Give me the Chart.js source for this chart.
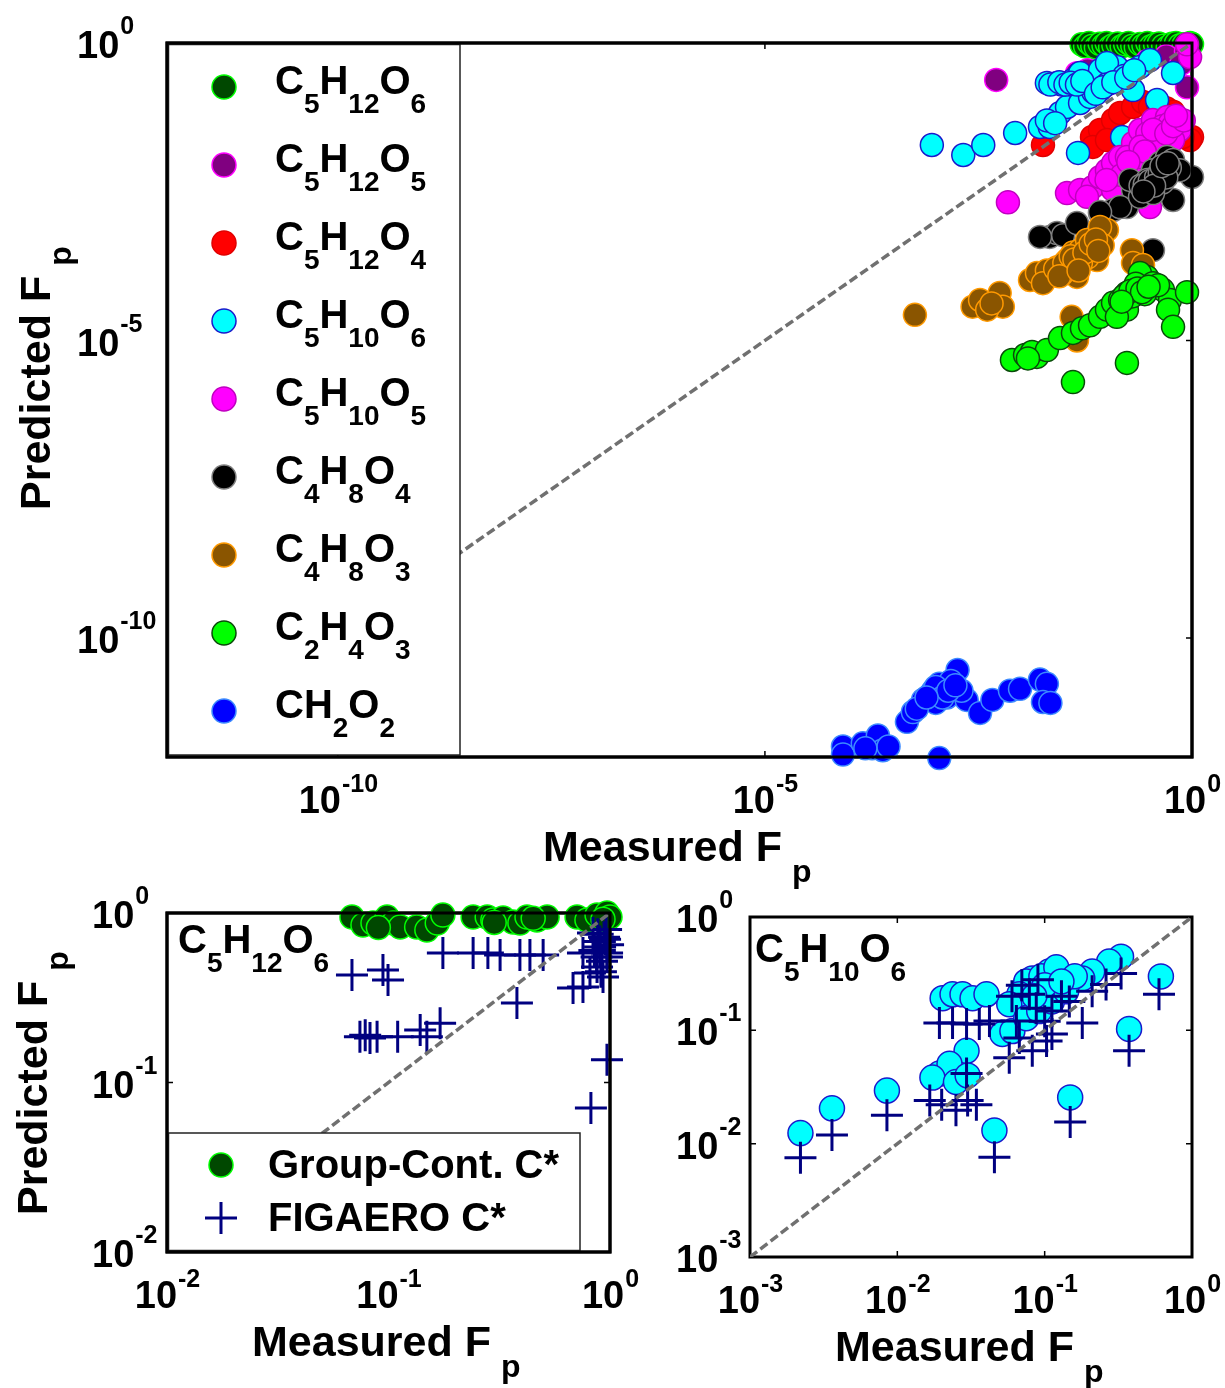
<!DOCTYPE html>
<html>
<head>
<meta charset="utf-8">
<script src="https://cdn.jsdelivr.net/npm/chart.js@4.4.1/dist/chart.umd.min.js"></script>
<style>
  body { margin: 0; background: #fff; }
  #wrap { position: relative; width: 1225px; height: 1388px; }
  canvas { position: absolute; left: 0; top: 0; }
</style>
</head>
<body>
<div id="wrap">
  <canvas id="mainChart" width="1225" height="1388"></canvas>
  <canvas id="leftChart" width="1225" height="1388"></canvas>
  <canvas id="rightChart" width="1225" height="1388"></canvas>
</div>
<script>
// ---------- top panel: measured vs predicted Fp, all species ----------
const speciesNames = ['C5H12O6', 'C5H12O5', 'C5H12O4', 'C5H10O6', 'C5H10O5', 'C4H8O4', 'C4H8O3', 'C2H4O3', 'CH2O2'];

const c5h12o6X = [0.051,0.056,0.062,0.068,0.075,0.083,0.092,0.10,0.11,0.12,0.135,0.15,0.165,0.18,0.20,0.22,0.245,0.27,0.30,0.33,0.37,0.41,0.46,0.52,0.58,0.65,0.72,0.80,0.88,0.95,1.0];
const c5h12o6Y = [0.95,0.88,1.0,0.90,0.84,0.97,0.92,1.0,0.86,0.93,0.98,0.88,0.95,1.0,0.9,0.85,0.96,0.92,1.0,0.88,0.94,0.98,0.9,0.86,0.97,1.0,0.92,0.95,0.88,1.0,0.96];

const c5h12o5X = [0.0051,0.045,0.06,0.3,0.5,0.85,0.874,0.75];
const c5h12o5Y = [0.24,0.31,0.35,0.5,0.6,0.72,0.18,0.45];

const c5h12o4X = [0.018,0.0675,0.0838,0.119,0.144,0.204,0.267,0.322,0.72,1.0,0.95,0.78,0.204,0.069,0.101,0.5,0.6,0.4];
const c5h12o4Y = [0.0193,0.0263,0.0345,0.0508,0.0666,0.084,0.102,0.084,0.0508,0.0263,0.0234,0.0263,0.0044,0.0179,0.0234,0.08,0.07,0.09];

const c5h10o6X = [0.0009,0.0021,0.0036,0.0085,0.0463,0.39,0.6,0.152,0.020,0.0263,0.0344,0.0404,0.0489,0.059,0.0166,0.0216,0.0285,0.0344,0.0489,0.064,0.0838,0.11,0.144,0.188,0.246,0.322,0.0838,0.132,0.101,0.204,0.02,0.025,0.03,0.07,0.1,0.16,
                  0.022,0.028,0.033,0.038,0.045,0.052,0.075,0.09,0.12,0.17,0.21];
const c5h10o6Y = [0.0193,0.0131,0.0193,0.0307,0.0142,0.11,0.313,0.0263,0.213,0.213,0.213,0.239,0.313,0.213,0.0388,0.0388,0.0666,0.084,0.098,0.124,0.162,0.213,0.239,0.313,0.395,0.518,0.352,0.395,0.461,0.162,0.05,0.045,0.2,0.15,0.2,0.28,
                  0.2,0.22,0.2,0.215,0.2,0.23,0.14,0.18,0.22,0.26,0.35];

const c5h10o5X = [0.007,0.0344,0.0489,0.069,0.0838,0.101,0.119,0.144,0.204,0.246,0.349,0.51,0.72,0.95,0.874,0.173,0.297,0.39,0.6,0.204,0.119,0.322,0.059,0.246,0.3,0.45,0.25,0.4,0.55,0.7,0.15,
                  0.35,0.5,0.6,0.8,0.65,0.28,0.18,0.1];
const c5h10o5Y = [0.0021,0.003,0.0034,0.0038,0.0056,0.0073,0.0096,0.0121,0.0209,0.0345,0.0508,0.057,0.0345,0.58,0.95,0.0121,0.0234,0.0345,0.0234,0.0073,0.0034,0.00175,0.0026,0.0121,0.03,0.04,0.018,0.02,0.045,0.05,0.006,
                  0.035,0.03,0.04,0.05,0.06,0.015,0.01,0.005];

const c4h8o4X = [0.0216,0.0263,0.031,0.0166,0.045,0.0838,0.119,0.173,0.349,0.6,0.422,0.51,0.6,1.0,0.204,0.297,0.144,0.0838,0.349,0.246,0.188,0.72,0.3,0.4,0.45,0.25,0.55,0.35,
                 0.28,0.32,0.38,0.42,0.48,0.5,0.36,0.44,0.52,0.27];
const c4h8o4Y = [0.00055,0.00064,0.00059,0.00055,0.00094,0.00139,0.00156,0.00175,0.00033,0.0023,0.0096,0.0121,0.0108,0.0056,0.0034,0.0038,0.00175,0.00144,0.0073,0.0026,0.005,0.0073,0.005,0.006,0.0045,0.004,0.008,0.003,
                 0.0042,0.0048,0.0055,0.0065,0.007,0.0055,0.004,0.0085,0.0095,0.0032];

const c4h8o3X = [0.00057,0.0027,0.0033,0.0056,0.0061,0.004,0.0127,0.0153,0.020,0.0263,0.0344,0.0404,0.0489,0.059,0.0838,0.101,0.0773,0.045,0.018,0.198,0.204,0.267,0.039,0.045,0.0838,0.03,0.06,0.07,0.05,0.09,0.0045,
                 0.025,0.032,0.038,0.042,0.055,0.065,0.075,0.08,0.028,0.047];
const c4h8o3Y = [2.7e-5,3.7e-5,4.8e-5,6.3e-5,3.7e-5,3.3e-5,1.04e-4,1.36e-4,1.5e-4,1.7e-4,2.25e-4,3.0e-4,3.3e-4,4.9e-4,6.4e-4,7.2e-4,2.25e-4,1.17e-4,9.2e-5,3.3e-4,2.0e-4,1.86e-4,2.5e-5,1.0e-5,8.1e-4,1.3e-4,2.5e-4,3.8e-4,2.0e-4,4.0e-4,4.2e-5,
                 1.6e-4,2.0e-4,2.6e-4,2.3e-4,3.0e-4,4.2e-4,5.0e-4,3.2e-4,1.2e-4,1.5e-4];

const c2h4o3X = [0.0078,0.0111,0.0153,0.0134,0.020,0.0285,0.0404,0.0515,0.064,0.0838,0.101,0.119,0.144,0.173,0.204,0.246,0.297,0.246,0.349,0.457,0.553,0.524,0.6,0.874,0.173,0.0404,0.173,0.132,0.2,0.22,0.28,0.16,0.4,
                 0.19,0.23,0.26,0.31,0.15,0.012];
const c2h4o3Y = [4.7e-6,5.7e-6,5.3e-6,6.4e-6,6.9e-6,1.1e-5,1.34e-5,1.6e-5,1.8e-5,2.5e-5,3.3e-5,4.3e-5,4.8e-5,6.3e-5,7.1e-5,7.9e-5,1.17e-4,1.36e-4,9.2e-5,7.1e-5,4.8e-5,3.3e-5,1.7e-5,6.5e-5,4.2e-6,2.0e-6,3.3e-5,2.5e-5,5.5e-5,9.0e-5,6.0e-5,5.6e-5,8.5e-5,
                 6.8e-5,7.5e-5,6.5e-5,8.0e-5,4.5e-5,5.0e-6];

const ch2o2X = [8.2e-5,8.2e-5,1.4e-4,1.8e-4,2.1e-4,2.4e-4,2.8e-4,4.6e-4,5.4e-4,7.1e-4,9.3e-4,1.1e-3,1.0e-3,1.35e-3,1.6e-3,1.8e-3,2.3e-3,3.3e-3,4.6e-3,7.4e-3,9.7e-3,0.0166,0.020,0.018,0.022,1.1e-3,1.2e-3,8.5e-4,1.5e-3,2.0e-3,6.0e-4,
                1.0e-3,1.2e-3,1.4e-3,7.8e-4,1.7e-3,1.5e-4];
const ch2o2Y = [1.5e-12,1.1e-12,1.7e-12,1.4e-12,2.3e-12,1.3e-12,1.5e-12,3.9e-12,5.7e-12,9.1e-12,1.3e-11,1.7e-11,8.1e-12,1.0e-11,1.5e-11,2.9e-11,9.1e-12,5.5e-12,9.1e-12,1.3e-11,1.4e-11,2.0e-11,1.7e-11,8.4e-12,8.1e-12,9.6e-13,1.2e-11,1.1e-11,1.9e-11,1.3e-11,6.5e-12,
                1.5e-11,1.0e-11,1.3e-11,1.0e-11,1.6e-11,1.4e-12];

const mainX = [c5h12o6X, c5h12o5X, c5h12o4X, c5h10o6X, c5h10o5X, c4h8o4X, c4h8o3X, c2h4o3X, ch2o2X];
const mainY = [c5h12o6Y, c5h12o5Y, c5h12o4Y, c5h10o6Y, c5h10o5Y, c4h8o4Y, c4h8o3Y, c2h4o3Y, ch2o2Y];

// ---------- bottom-left panel: C5H12O6 ----------
const gcC5h12o6X = [0.0684,0.0767,0.0851,0.0985,0.105,0.113,0.134,0.149,0.166,0.176,0.241,0.279,0.296,0.329,0.365,0.392,0.422,0.468,0.52,0.71,0.787,0.874,0.969,1.0,0.09,0.3,0.45,0.93];
const gcC5h12o6Y = [0.947,0.85,0.873,0.947,0.873,0.827,0.827,0.794,0.873,0.973,0.947,0.947,0.909,0.934,0.885,0.873,0.947,0.909,0.947,0.947,0.909,0.973,1.0,0.947,0.82,0.88,0.93,0.92];
const figC5h12o6X = [0.0684,0.0944,0.0995,0.176,0.241,0.281,0.319,0.392,0.435,0.499,0.755,0.681,0.755,0.38,0.0743,0.0825,0.0888,0.11,0.139,0.149,0.171,0.969,0.838,0.902,0.969,0.874,0.812,0.93,0.82,0.95,0.9,0.85,0.98,0.92,0.88,0.96,0.0785,
                     0.9,0.94,0.87,0.97,0.91];
const figC5h12o6Y = [0.431,0.461,0.402,0.581,0.581,0.581,0.565,0.565,0.565,0.565,0.581,0.361,0.366,0.294,0.186,0.183,0.186,0.186,0.204,0.186,0.224,0.136,0.762,0.63,0.55,0.48,0.443,0.419,0.0707,0.7,0.68,0.6,0.65,0.52,0.75,0.8,0.19,
                     0.6,0.72,0.55,0.58,0.45];

// ---------- bottom-right panel: C5H10O6 ----------
const gcC5h10o6X = [0.0022,0.0036,0.0085,0.0456,0.149,0.615,0.374,0.330,0.274,0.21,0.18,0.107,0.0824,0.075,0.0673,0.0575,0.0516,0.0604,0.075,0.0918,0.112,0.14,0.0203,0.0237,0.0277,0.0324,0.0403,0.0295,0.0193,0.0226,0.0173,0.095,0.12,0.16,0.1,0.025,0.03,0.085,0.13];
const gcC5h10o6Y = [0.0124,0.0205,0.0294,0.0131,0.0256,0.299,0.103,0.447,0.404,0.33,0.287,0.33,0.287,0.27,0.208,0.17,0.0929,0.0986,0.128,0.148,0.18,0.221,0.192,0.208,0.208,0.192,0.208,0.0659,0.0415,0.0507,0.0383,0.3,0.36,0.3,0.25,0.035,0.04,0.2,0.27];
const figC5h10o6X = [0.0022,0.0036,0.0085,0.0456,0.149,0.597,0.374,0.330,0.18,0.0575,0.0193,0.0237,0.0295,0.036,0.0422,0.0787,0.0877,0.112,0.147,0.21,0.261,0.0673,0.0824,0.103,0.0295,0.0643,0.112,0.0166,0.02,0.025,0.03,0.0344,0.07,0.09,0.06,0.1,0.13];
const figC5h10o6Y = [0.0075,0.0119,0.0178,0.0076,0.0155,0.208,0.0659,0.317,0.116,0.0573,0.116,0.116,0.114,0.114,0.121,0.208,0.157,0.148,0.18,0.221,0.254,0.0857,0.0659,0.0806,0.0415,0.121,0.0929,0.024,0.022,0.0197,0.024,0.022,0.25,0.28,0.2,0.12,0.2];

// tick label exponents (labels are 10^n)
const mainTickExp = [-10, -5, 0];
const leftTickExp = [-2, -1, 0];
const rightTickExp = [-3, -2, -1, 0];

// styles
const speciesFill = ['#004800', '#800080', '#ff0000', '#00ffff', '#ff00ff', '#000000', '#8a5500', '#00ff00', '#0000ff'];
const speciesEdge = ['#00ff00', '#ff00ff', '#e00000', '#1a1acc', '#c000c0', '#808080', '#ff9a00', '#0a4a0a', '#3d8bff'];
const FONT = '"Liberation Sans", Arial, Helvetica, sans-serif';
const W = 1225, H = 1388;

function pts(xs, ys) { return xs.map((x, i) => ({ x: x, y: ys[i] })); }

function oneToOne(lo) {
  return {
    type: 'line', showLine: true, data: [{ x: lo, y: lo }, { x: 1, y: 1 }],
    borderColor: '#707070', borderWidth: 3.5, borderDash: [9, 4], pointRadius: 0, fill: false, order: 0
  };
}

function drawFormula(ctx, str, x, y, big, small, dy) {
  const parts = str.match(/[A-Za-z]+|\d+/g);
  parts.forEach(p => {
    const sub = /\d/.test(p);
    ctx.font = 'bold ' + (sub ? small : big) + 'px ' + FONT;
    ctx.fillText(p, x, sub ? y + dy : y);
    x += ctx.measureText(p).width;
  });
}

function drawTitle(ctx, x, y, rotate) {
  ctx.save();
  ctx.translate(x, y);
  if (rotate) ctx.rotate(-Math.PI / 2);
  ctx.font = 'bold 43px ' + FONT;
  ctx.fillText(rotate ? 'Predicted F' : 'Measured F', 0, 0);
  const w = ctx.measureText(rotate ? 'Predicted F' : 'Measured F').width;
  ctx.font = 'bold 32px ' + FONT;
  ctx.fillText('p', w + 10, 21);
  ctx.restore();
}

function drawMarker(ctx, kind, x, y, fill, edge) {
  ctx.beginPath();
  if (kind === 'cross') {
    ctx.strokeStyle = edge; ctx.lineWidth = 3;
    ctx.moveTo(x - 16, y); ctx.lineTo(x + 16, y);
    ctx.moveTo(x, y - 16); ctx.lineTo(x, y + 16);
    ctx.stroke();
  } else {
    ctx.arc(x, y, 12, 0, 2 * Math.PI);
    ctx.fillStyle = fill; ctx.fill();
    ctx.lineWidth = 1.5; ctx.strokeStyle = edge; ctx.stroke();
  }
}

function decoPlugin(cfg) {
  return {
    id: 'deco',
    beforeDatasetsDraw(chart) {
      const ctx = chart.ctx, a = chart.chartArea, sx = chart.scales.x, sy = chart.scales.y;
      ctx.save();
      ctx.strokeStyle = '#000';
      ctx.lineWidth = 3;
      ctx.strokeRect(a.left, a.top, a.right - a.left, a.bottom - a.top);
      ctx.lineWidth = 1.5;
      ctx.beginPath();
      cfg.exps.forEach(e => {
        const px = sx.getPixelForValue(Math.pow(10, e));
        const py = sy.getPixelForValue(Math.pow(10, e));
        ctx.moveTo(px, a.bottom); ctx.lineTo(px, a.bottom - 6);
        ctx.moveTo(px, a.top); ctx.lineTo(px, a.top + 6);
        ctx.moveTo(a.left, py); ctx.lineTo(a.left + 6, py);
        ctx.moveTo(a.right, py); ctx.lineTo(a.right - 6, py);
      });
      ctx.stroke();
      ctx.restore();
    },
    afterDatasetsDraw(chart) {
      const ctx = chart.ctx, a = chart.chartArea, sx = chart.scales.x, sy = chart.scales.y;
      ctx.save();
      ctx.fillStyle = '#000';
      ctx.textBaseline = 'alphabetic';
      ctx.textAlign = 'left';

      // legend
      if (cfg.legend) {
        const L = cfg.legend;
        ctx.fillStyle = '#fff';
        ctx.fillRect(L.x0, L.y0, L.x1 - L.x0, L.y1 - L.y0);
        ctx.strokeStyle = '#222'; ctx.lineWidth = 1.5;
        ctx.strokeRect(L.x0, L.y0, L.x1 - L.x0, L.y1 - L.y0);
        L.items.forEach((it, i) => {
          const cy = L.first + i * L.step;
          drawMarker(ctx, it.kind, L.mx, cy, it.fill, it.edge);
          ctx.fillStyle = '#000';
          if (it.formula) drawFormula(ctx, it.text, L.tx, cy + 7, 40, 28, 19);
          else { ctx.font = 'bold 40px ' + FONT; ctx.fillText(it.text, L.tx, cy + 13); }
        });
        ctx.strokeStyle = '#000'; ctx.lineWidth = 3;
        ctx.strokeRect(a.left, a.top, a.right - a.left, a.bottom - a.top);
      }

      // panel label
      ctx.fillStyle = '#000';
      if (cfg.label) drawFormula(ctx, cfg.label.text, cfg.label.x, cfg.label.y, 40, 28, 19);

      // tick labels 10^n
      cfg.exps.forEach(e => {
        const es = String(e);
        ctx.font = 'bold 38px ' + FONT;
        const w10 = ctx.measureText('10').width;
        ctx.font = 'bold 25px ' + FONT;
        const we = ctx.measureText(es).width;
        const px = sx.getPixelForValue(Math.pow(10, e));
        const left = px - (w10 + we) / 2;
        ctx.font = 'bold 38px ' + FONT;
        ctx.fillText('10', left, a.bottom + 56);
        ctx.font = 'bold 25px ' + FONT;
        ctx.fillText(es, left + w10 + 1, a.bottom + 35);
        const py = sy.getPixelForValue(Math.pow(10, e));
        ctx.font = 'bold 38px ' + FONT;
        ctx.fillText('10', cfg.yLabelX, py + 15);
        ctx.font = 'bold 25px ' + FONT;
        ctx.fillText(es, cfg.yLabelX + w10 + 1, py - 9);
      });

      // axis titles
      drawTitle(ctx, cfg.xTitleX, a.bottom + 104, false);
      if (cfg.yTitle) drawTitle(ctx, cfg.yTitle.x, cfg.yTitle.y, true);
      ctx.restore();
    }
  };
}

function makeChart(id, area, lo, datasets, deco) {
  return new Chart(document.getElementById(id), {
    type: 'scatter',
    data: { datasets: datasets },
    options: {
      responsive: false,
      animation: false,
      events: [],
      layout: { padding: { left: area.l, top: area.t, right: W - area.r, bottom: H - area.b } },
      scales: {
        x: { type: 'logarithmic', min: lo, max: 1, display: false },
        y: { type: 'logarithmic', min: lo, max: 1, display: false }
      },
      plugins: { legend: { display: false }, tooltip: { enabled: false } }
    },
    plugins: [decoPlugin(deco)]
  });
}

// ---- top panel ----
const mainSets = speciesNames.map((name, i) => ({
  label: name,
  data: pts(mainX[i], mainY[i]),
  backgroundColor: speciesFill[i],
  borderColor: speciesEdge[i],
  borderWidth: 1.5,
  pointRadius: 11.5,
  clip: false,
  order: 20 - i
}));
mainSets.push(oneToOne(1e-12));

makeChart('mainChart', { l: 167, t: 43, r: 1192, b: 757 }, 1e-12, mainSets, {
  exps: mainTickExp,
  yLabelX: 77,
  xTitleX: 543,
  yTitle: { x: 50, y: 510 },
  legend: {
    x0: 168.5, y0: 44.5, x1: 460, y1: 755,
    mx: 224, tx: 275, first: 87, step: 78,
    items: speciesNames.map((n, i) => ({ text: n, formula: true, kind: 'circle', fill: speciesFill[i], edge: speciesEdge[i] }))
  }
});

// ---- bottom-left panel ----
const gcFill = '#004800', gcEdge = '#00ff00', figColor = '#000080';
makeChart('leftChart', { l: 167, t: 913, r: 610, b: 1252 }, 1e-2, [
  { label: 'Group-Cont. C*', data: pts(gcC5h12o6X, gcC5h12o6Y), backgroundColor: gcFill, borderColor: gcEdge,
    borderWidth: 1.5, pointRadius: 12, clip: false, order: 3 },
  { label: 'FIGAERO C*', data: pts(figC5h12o6X, figC5h12o6Y), pointStyle: 'cross', borderColor: figColor,
    borderWidth: 3, pointRadius: 16, clip: false, order: 2 },
  oneToOne(1e-2)
], {
  exps: leftTickExp,
  yLabelX: 92,
  xTitleX: 252,
  yTitle: { x: 47, y: 1215 },
  label: { text: 'C5H12O6', x: 178, y: 953 },
  legend: {
    x0: 168.5, y0: 1133, x1: 580, y1: 1250.5,
    mx: 221, tx: 268, first: 1165, step: 53,
    items: [
      { text: 'Group-Cont. C*', kind: 'circle', fill: gcFill, edge: gcEdge },
      { text: 'FIGAERO C*', kind: 'cross', fill: null, edge: figColor }
    ]
  }
});

// ---- bottom-right panel ----
makeChart('rightChart', { l: 750, t: 917, r: 1192, b: 1257 }, 1e-3, [
  { label: 'Group-Cont. C*', data: pts(gcC5h10o6X, gcC5h10o6Y), backgroundColor: '#00ffff', borderColor: '#1a1acc',
    borderWidth: 1.5, pointRadius: 12.5, clip: false, order: 3 },
  { label: 'FIGAERO C*', data: pts(figC5h10o6X, figC5h10o6Y), pointStyle: 'cross', borderColor: figColor,
    borderWidth: 3, pointRadius: 16, clip: false, order: 2 },
  oneToOne(1e-3)
], {
  exps: rightTickExp,
  yLabelX: 676,
  xTitleX: 835,
  label: { text: 'C5H10O6', x: 755, y: 962 }
});
</script>
</body>
</html>
